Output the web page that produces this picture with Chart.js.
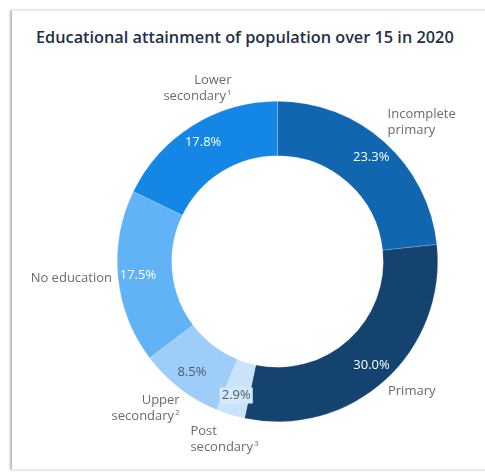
<!DOCTYPE html>
<html>
<head>
<meta charset="utf-8">
<script src="https://cdn.jsdelivr.net/npm/chart.js@4"></script>
<style>
  html, body { margin: 0; padding: 0; background: #fff; width: 485px; height: 472px; overflow: hidden; }
  .card {
    position: absolute; left: 12px; top: 10px; width: 500px; height: 458px;
    border-top: 1px solid #ececec; border-bottom: 1px solid #ececec;
    box-shadow: -2px 0 2px rgba(0, 0, 0, 0.28);
    background: #fff;
  }
  .title {
    position: absolute; left: 36px; top: 26px;
    font: 600 16.3px "Open Sans", sans-serif; color: #1f3047;
  }
  #chart { position: absolute; left: 0; top: 0; }
</style>
</head>
<body>
<div class="card"></div>
<div class="title">Educational attainment of population over 15 in 2020</div>
<canvas id="chart" width="485" height="472"></canvas>
<script>
// categories (clockwise from 12 o'clock), split in the lines they are shown on
const categories = [
  ['Incomplete', 'primary'],
  ['Primary'],
  ['Post', 'secondary'],
  ['Upper', 'secondary'],
  ['No education'],
  ['Lower', 'secondary']
];
const footnotes = ['', '', '3', '2', '', '1'];
// share of population over 15, %
const shares = [23.3, 30.0, 2.9, 8.5, 17.5, 17.8];

const sliceColors = ['#1166b0', '#14436f', '#c9e4fa', '#9dcdf8', '#62b3f5', '#1486e6'];
const valueColors = ['#ffffff', '#ffffff', '#4f5b66', '#4f5b66', '#ffffff', '#ffffff'];

// where each category name sits, relative to the outer edge at the slice middle
const nameLayout = [
  { align: 'left', dx: 3, dy: -28 },
  { align: 'left', dx: 3, dy: 11 },
  { align: 'left', dx: -40, dy: 17 },
  { align: 'right', dx: 0, dy: 12 },
  { align: 'right', dx: -6, dy: 1 },
  { align: 'right', dx: 39, dy: -45 }
];

const sliceLabels = {
  id: 'sliceLabels',
  afterDatasetsDraw(chart) {
    const ctx = chart.ctx;
    const meta = chart.getDatasetMeta(0);
    ctx.save();
    ctx.textBaseline = 'middle';
    meta.data.forEach((arc, i) => {
      const p = arc.getProps(['x', 'y', 'startAngle', 'endAngle', 'outerRadius'], true);
      const mid = (p.startAngle + p.endAngle) / 2;
      const cos = Math.cos(mid), sin = Math.sin(mid);

      // value inside the ring
      const r = p.outerRadius * 0.875;
      const vx = p.x + r * cos, vy = p.y + r * sin;
      const txt = shares[i].toFixed(1) + '%';
      ctx.font = '13px "Open Sans"';
      if (shares[i] < 5) {
        const w = ctx.measureText(txt).width;
        ctx.fillStyle = '#d4eafb';
        ctx.fillRect(vx - w / 2 - 2, vy - 8, w + 4, 16);
      }
      ctx.fillStyle = valueColors[i];
      ctx.textAlign = 'center';
      ctx.fillText(txt, vx, vy);

      // category name outside the ring
      const lay = nameLayout[i];
      const ex = p.x + p.outerRadius * cos + lay.dx;
      const ey = p.y + p.outerRadius * sin + lay.dy;
      const lines = categories[i];
      lines.forEach((line, k) => {
        const y = ey + k * 16;
        const last = k === lines.length - 1;
        const sup = last ? footnotes[i] : '';
        ctx.font = '8px "Open Sans"';
        const sw = sup ? ctx.measureText(sup).width + 1 : 0;
        ctx.font = '13px "Open Sans"';
        const w = ctx.measureText(line).width;
        const left = lay.align === 'left' ? ex : ex - w - sw;
        ctx.fillStyle = '#6b6b6b';
        ctx.textAlign = 'left';
        ctx.fillText(line, left, y);
        if (sup) {
          ctx.font = '8px "Open Sans"';
          ctx.fillText(sup, left + w + 1, y - 4);
        }
      });
    });
    ctx.restore();
  }
};

new Chart(document.getElementById('chart'), {
  type: 'doughnut',
  data: {
    labels: categories.map(c => c.join(' ')),
    datasets: [{
      data: shares,
      backgroundColor: sliceColors,
      borderColor: 'rgba(255,255,255,0.35)',
      borderWidth: 0.5
    }]
  },
  options: {
    responsive: false,
    animation: false,
    cutout: '66%',
    layout: { padding: { left: 117, right: 47, top: 101, bottom: 50 } },
    plugins: {
      legend: { display: false },
      tooltip: { enabled: false }
    }
  },
  plugins: [sliceLabels]
});
</script>
</body>
</html>
